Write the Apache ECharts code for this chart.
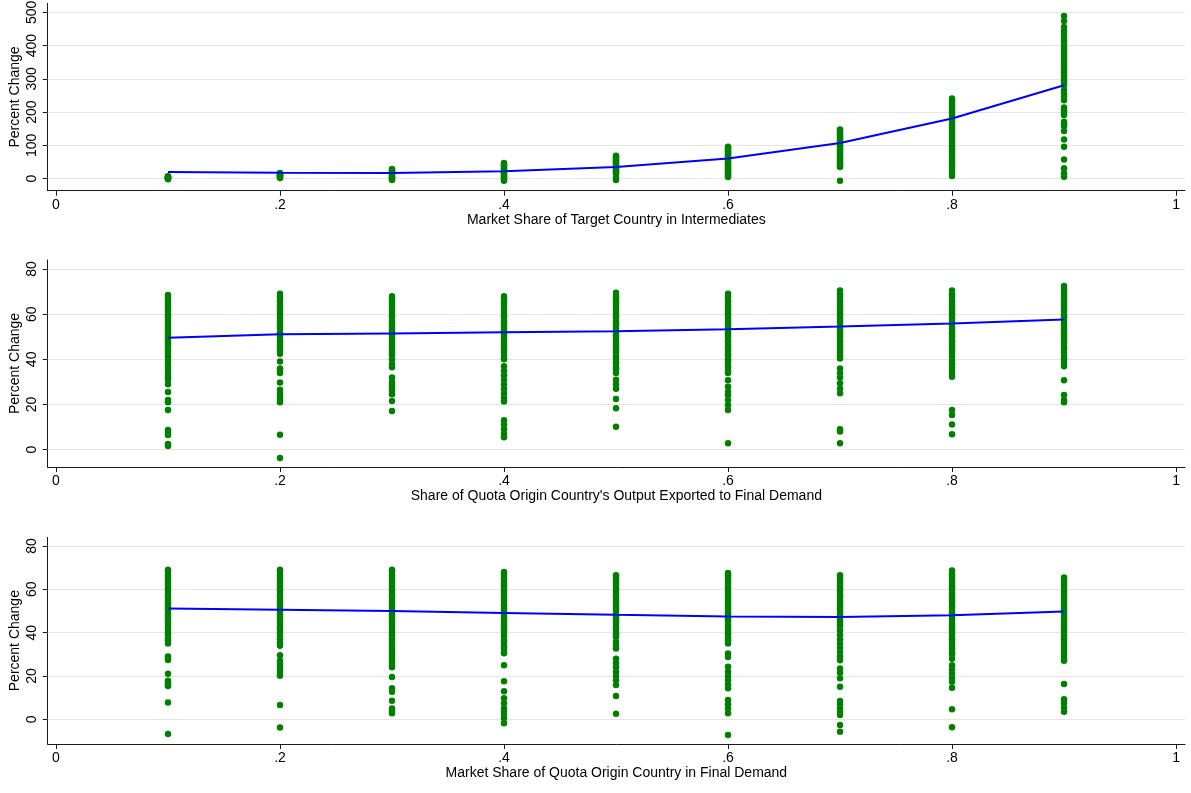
<!DOCTYPE html>
<html>
<head>
<meta charset="utf-8">
<script src="https://cdn.jsdelivr.net/npm/echarts@6/dist/echarts.min.js"></script>
<style>
  html, body { margin: 0; padding: 0; background: #ffffff; }
  #chart { width: 1191px; height: 793px; }
</style>
</head>
<body>
<div id="chart"></div>
<script>
// Simulated shares (x) shared by all three panels
const shares = [0.1, 0.2, 0.3, 0.4, 0.5, 0.6, 0.7, 0.8, 0.9];

// X tick marks and labels
const xTicks = [0, 0.2, 0.4, 0.6, 0.8, 1];

// Panel titles
const xTitles = [
  "Market Share of Target Country in Intermediates",
  "Share of Quota Origin Country's Output Exported to Final Demand",
  "Market Share of Quota Origin Country in Final Demand"
];
const yTitle = "Percent Change";

// Y ticks per panel
const yTicks1 = [0, 100, 200, 300, 400, 500];
const yTicks2 = [0, 20, 40, 60, 80];
const yTicks3 = [0, 20, 40, 60, 80];

// Panel 1: percent change by market share in intermediates (one list per share)
const intermediates = [
  [-2, 0, 1, 2, 3, 4, 5, 6, 7],
  [2, 4, 6, 8, 10, 12, 14, 16, 17],
  [-4, -1, 2, 5, 8, 11, 14, 17, 20, 23, 26, 29],
  [-6, -3, 0, 4, 8, 12, 16, 20, 24, 28, 32, 36, 40, 44, 47],
  [-4, 5, 15, 19, 23, 27, 31, 35, 39, 43, 47, 51, 55, 59, 63, 66, 69],
  [5, 9, 13, 17, 21, 25, 29, 33, 37, 41, 45, 49, 53, 57, 61, 65, 69, 73, 77, 81, 85, 89, 93, 96],
  [-6, 35, 40, 45, 50, 55, 60, 65, 70, 75, 80, 85, 90, 95, 100, 105, 110, 115, 120, 125, 130, 135, 140, 145, 148],
  [8, 18, 26, 34, 42, 50, 58, 66, 74, 82, 90, 98, 106, 114, 122, 130, 138, 146, 154, 162, 170, 178, 186, 194, 202, 210, 218, 226, 234, 241],
  [6, 16, 31, 58, 96, 118, 143, 158, 164, 171, 191, 198, 206, 214, 236, 246, 256, 266, 280, 288, 296, 304, 312, 320, 328, 336, 344, 352, 360, 368, 376, 384, 392, 400, 408, 416, 426, 434, 444, 456, 474, 489]
];
const fitIntermediates = [20, 18, 17, 22, 35, 61, 107, 181, 281];

// Panel 2: percent change by share of output exported to final demand
const exportedFinal = [
  [68.5, 67.5, 66, 65, 64, 62.5, 61.5, 60, 59, 58, 56.5, 55.5, 54, 53, 52, 50.5, 49.5, 48, 47, 46, 44.5, 43.5, 42, 41, 39.5, 38, 36.5, 35, 33.5, 32, 31, 29, 25.5, 22, 21, 17.6, 8.7, 7.5, 6.5, 2.5, 1.6],
  [69, 68, 66.5, 65.5, 64, 63, 62, 60.5, 59.5, 58, 57, 56, 54.5, 53.5, 52, 51, 50, 48.5, 47.5, 46, 45, 44, 42.5, 39, 36, 35, 34, 29.7, 26.5, 25, 23.5, 22, 21, 6.6, -3.7],
  [68, 67, 65.5, 64.5, 63, 62, 61, 59.5, 58.5, 57, 56, 55, 53.5, 52.5, 51, 50, 49, 47.5, 46.5, 45, 44, 43, 42, 40, 38, 36.5, 32, 30, 29, 27.5, 26, 24.5, 21.6, 17.1],
  [68, 67, 65.5, 64.5, 63, 62, 61, 59.5, 58.5, 57, 56, 55, 53.5, 52.5, 51, 50, 49, 47.5, 46.5, 45, 44, 43, 41.5, 40, 37, 35, 33, 31, 29, 27, 25, 23, 21.3, 13, 11, 9, 7, 5.5],
  [69.5, 68, 67, 65.5, 64.5, 63, 62, 61, 59.5, 58.5, 57, 56, 55, 53.5, 52.5, 51, 50, 49, 47.5, 46.5, 45, 44, 43, 41.5, 40.5, 39, 38, 36.5, 35.5, 34, 31, 29, 27, 22.4, 18.3, 10.2],
  [69, 68, 66.5, 65.5, 64, 63, 62, 60.5, 59.5, 58, 57, 56, 54.5, 53.5, 52, 51, 50, 48.5, 47.5, 46, 45, 44, 42.5, 41.5, 40, 39, 37.5, 36.5, 35, 34, 30.8, 27.9, 25.7, 24.2, 22, 19.8, 17.6, 2.8],
  [70.5, 69, 68, 66.5, 65.5, 64, 63, 62, 60.5, 59.5, 58, 57, 56, 54.5, 53.5, 52, 51, 50, 48.5, 47.5, 46, 45, 44, 42.5, 41.5, 40.4, 36, 34, 32, 29.4, 27, 25, 9, 8, 2.8],
  [70.5, 69, 68, 66.5, 65.5, 64, 63, 62, 60.5, 59.5, 58, 57, 56, 54.5, 53.5, 52, 51, 50, 48.5, 47.5, 46, 45, 44, 42.5, 41, 39.5, 38, 36.5, 35, 33.5, 32.3, 17.6, 15.4, 11.2, 6.8],
  [72.5, 71, 70, 68.5, 67.5, 66, 65, 64, 62.5, 61.5, 60, 59, 58, 56.5, 55.5, 54, 53, 52, 50.5, 49.5, 48, 47, 45.5, 44.5, 43, 41.5, 40, 38.5, 37, 30.8, 24.2, 22, 21]
];
const fitExportedFinal = [49.6, 51.1, 51.5, 52.0, 52.5, 53.3, 54.5, 55.9, 57.6];

// Panel 3: percent change by market share in final demand
const finalDemand = [
  [69, 68, 66.5, 65.5, 64, 63, 62, 60.5, 59.5, 58, 57, 56, 54.5, 53.5, 52, 51, 50, 48.5, 47.5, 46, 45, 44, 42.5, 41.5, 40, 39, 37.5, 36.5, 35, 29, 28, 27.4, 21, 17.8, 17, 16, 15.4, 7.8, -6.8],
  [69, 68, 66.5, 65.5, 64, 63, 62, 60.5, 59.5, 58, 57, 56, 54.5, 53.5, 52, 51, 50, 48.5, 47.5, 46, 45, 44, 42.5, 41.5, 40, 38.5, 37, 35.5, 34, 29.6, 27, 25.5, 24, 22.5, 21, 20.1, 6.6, -3.8],
  [69, 68, 66.5, 65.5, 64, 63, 62, 60.5, 59.5, 58, 57, 56, 54.5, 53.5, 52, 51, 50, 48.5, 47.5, 46, 45, 44, 42.5, 41.5, 40, 39, 37.5, 36.5, 35, 34, 32.5, 31.5, 30, 29, 27.5, 26.5, 25, 24, 19.5, 14.3, 12.7, 8.6, 5, 4, 2.8],
  [68, 67, 65.5, 64.5, 63, 62, 61, 59.5, 58.5, 57, 56, 55, 53.5, 52.5, 51, 50, 49, 47.5, 46.5, 45, 44, 43, 41.5, 40.5, 39, 38, 36.5, 35.5, 34, 33, 31.5, 30.5, 25, 17.6, 13, 9.7, 7.4, 5, 3.5, 2, 0.5, -1.8],
  [66.5, 65.5, 64, 63, 62, 60.5, 59.5, 58, 57, 56, 54.5, 53.5, 52, 51, 50, 48.5, 47.5, 46, 45, 44, 42.5, 41.5, 40, 39, 38, 35.7, 34, 32.7, 28, 26, 24, 22, 20, 18, 15.8, 10.7, 2.6],
  [67.5, 66.5, 65, 64, 63, 61.5, 60.5, 59, 58, 57, 55.5, 54.5, 53, 52, 51, 49.5, 48.5, 47, 46, 45, 43.5, 42.5, 41, 40, 39, 37.5, 36.5, 35, 30.4, 28.8, 24.2, 22, 20, 18, 16, 14.3, 8.9, 7, 5, 2.8, -7.2],
  [66.5, 65.5, 64, 63, 62, 60.5, 59.5, 58, 57, 56, 54.5, 53.5, 52, 51, 50, 48.5, 47.5, 46, 45, 44, 43, 41, 39, 37, 35, 33, 31, 29, 27.3, 23.5, 21.5, 19, 15, 8.4, 7, 5, 3.5, 2, -2.6, -5.7],
  [68.7, 67, 66, 64.5, 63.5, 62, 61, 60, 58.5, 57.5, 56, 55, 54, 52.5, 51.5, 50, 49, 48, 46.5, 45.5, 44, 43, 42, 40.5, 39.5, 38, 37, 35.5, 34, 32.5, 31, 30, 28, 25, 23, 21, 19, 17.3, 14.6, 4.6, -3.7],
  [65.5, 64.5, 63, 62, 61, 59.5, 58.5, 57, 56, 55, 53.5, 52.5, 51, 50, 49, 47.5, 46.5, 45, 44, 43, 41.5, 40.5, 39, 38, 37, 35.5, 34, 32.5, 31, 29.5, 28, 27, 16.3, 9.2, 7.5, 5.5, 3.5]
];
const fitFinalDemand = [51.1, 50.6, 50.0, 49.1, 48.2, 47.5, 47.2, 48.0, 49.8];

// ---- build chart ----
const FONT = "'Liberation Sans', Arial, sans-serif";
const GREEN = '#008000';
const BLUE = '#0000ff';
const AXIS_COLOR = '#1a1a1a';
const GRID_COLOR = '#e5e5e5';

const panels = [
  { values: intermediates, fit: fitIntermediates, yTicks: yTicks1, yMin: -36.1, yMax: 527, top: 3.3, height: 187.4 },
  { values: exportedFinal, fit: fitExportedFinal, yTicks: yTicks2, yMin: -7.67, yMax: 84.0, top: 260, height: 207 },
  { values: finalDemand, fit: fitFinalDemand, yTicks: yTicks3, yMin: -11.4, yMax: 84.0, top: 537.3, height: 206.7 }
];

function fmtX(v) {
  if (v === 0) return '0';
  if (v === 1) return '1';
  return String(v).replace(/^0/, '');
}

const grid = [], xAxis = [], yAxis = [], series = [];

panels.forEach((p, i) => {
  grid.push({ left: 47.7, right: 6, top: p.top, height: p.height, containLabel: false, outerBoundsMode: 'none' });

  xAxis.push({
    type: 'value', gridIndex: i, min: -0.0074, max: 1.008,
    name: xTitles[i], nameLocation: 'middle', nameGap: 22, nameMoveOverlap: false,
    nameTextStyle: { fontFamily: FONT, fontSize: 14, color: '#000' },
    axisLine: { show: true, onZero: false, lineStyle: { color: AXIS_COLOR, width: 1 } },
    axisTick: { show: true, length: 5, customValues: xTicks, lineStyle: { color: AXIS_COLOR } },
    axisLabel: { customValues: xTicks, formatter: fmtX, fontFamily: FONT, fontSize: 14, color: '#000', margin: 7 },
    splitLine: { show: false }
  });

  yAxis.push({
    type: 'value', gridIndex: i, min: p.yMin, max: p.yMax,
    name: yTitle, nameLocation: 'middle', nameGap: 26, nameRotate: 90, nameMoveOverlap: false,
    nameTextStyle: { fontFamily: FONT, fontSize: 14, color: '#000' },
    axisLine: { show: true, onZero: false, lineStyle: { color: AXIS_COLOR, width: 1 } },
    axisTick: { show: true, length: 5, customValues: p.yTicks, lineStyle: { color: AXIS_COLOR } },
    axisLabel: { customValues: p.yTicks, rotate: 90, fontFamily: FONT, fontSize: 14, color: '#000', margin: 9 },
    splitLine: { show: false }
  });

  // horizontal reference lines at the y ticks, kept underneath the marks
  series.push({
    type: 'line', xAxisIndex: i, yAxisIndex: i, data: [], silent: true, zlevel: 0,
    markLine: {
      silent: true, symbol: 'none', label: { show: false }, animation: false,
      lineStyle: { color: GRID_COLOR, type: 'solid', width: 1.2 },
      data: p.yTicks.map(v => ({ yAxis: v }))
    }
  });

  const pts = [];
  p.values.forEach((col, k) => col.forEach(v => pts.push([shares[k], v])));
  series.push({
    type: 'scatter', xAxisIndex: i, yAxisIndex: i, data: pts,
    symbol: 'circle', symbolSize: 6.5, zlevel: 1, z: 2,
    itemStyle: { color: GREEN, opacity: 1 }, animation: false
  });

  series.push({
    type: 'line', xAxisIndex: i, yAxisIndex: i,
    data: shares.map((x, k) => [x, p.fit[k]]),
    showSymbol: false, symbol: 'none', zlevel: 1, z: 3,
    lineStyle: { color: BLUE, width: 2 }, animation: false
  });
});

const chart = echarts.init(document.getElementById('chart'), null, { renderer: 'canvas' });
chart.setOption({
  backgroundColor: '#ffffff',
  animation: false,
  textStyle: { fontFamily: FONT },
  grid, xAxis, yAxis, series
});
</script>
</body>
</html>
